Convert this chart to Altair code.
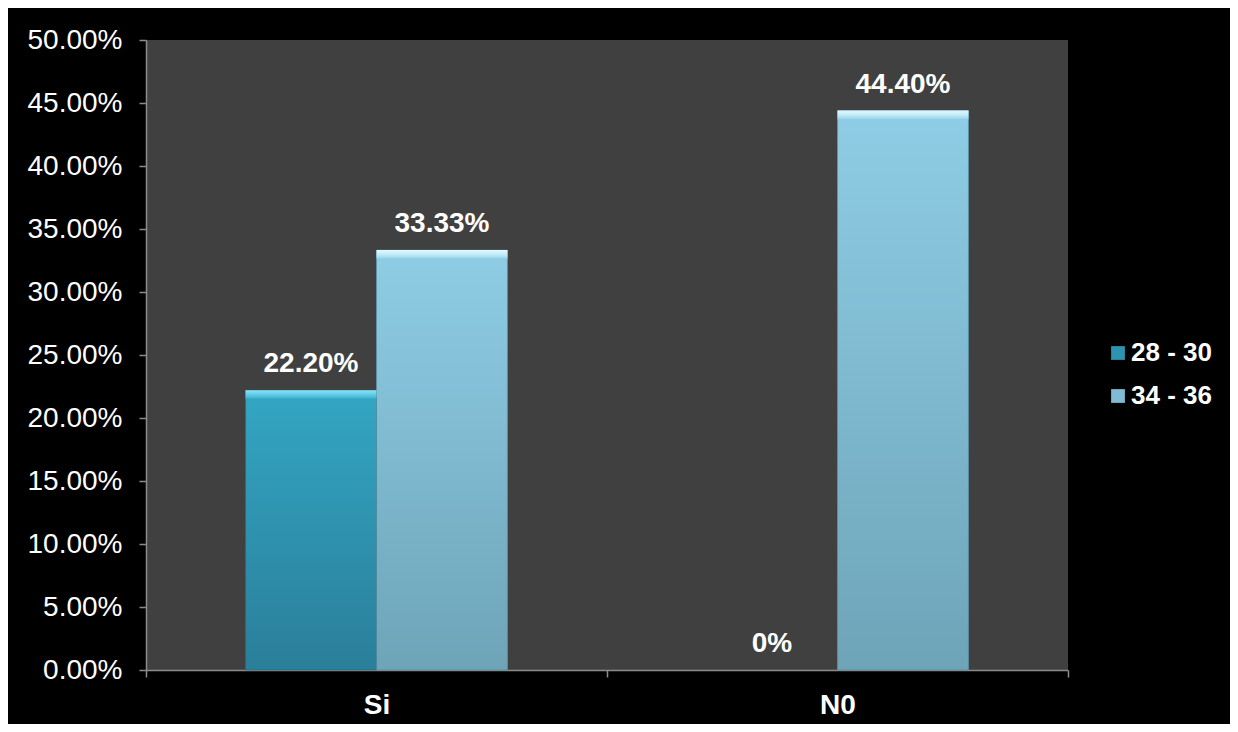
import altair as alt
import pandas as pd

# ---- data ----
categories = ["Si", "Si", "N0", "N0"]
series = ["28 - 30", "34 - 36", "28 - 30", "34 - 36"]
values = [0.222, 0.3333, 0.0, 0.444]
labels = ["22.20%", "33.33%", "0%", "44.40%"]
category_order = ["Si", "N0"]
series_order = ["28 - 30", "34 - 36"]
series_colors = ["#2e93b0", "#7fbbd2"]
y_ticks = [0.0, 0.05, 0.10, 0.15, 0.20, 0.25, 0.30, 0.35, 0.40, 0.45, 0.50]

df = pd.DataFrame({"category": categories, "series": series,
                   "value": values, "label": labels})

FONT = "Liberation Sans"
AXIS_GRAY = "#8c8c8c"

x = alt.X("category:N", sort=category_order,
          scale=alt.Scale(domain=category_order, paddingInner=0, paddingOuter=0),
          axis=alt.Axis(title=None, labelAngle=0, labelFont=FONT, labelFontSize=28,
                        labelFontWeight="bold", labelColor="white", labelPadding=14,
                        tickSize=7, tickBand="extent", domainColor=AXIS_GRAY,
                        tickColor=AXIS_GRAY, domainWidth=1.5, tickWidth=1.5, grid=False))
xo = alt.XOffset("series:N", sort=series_order,
                 scale=alt.Scale(domain=series_order, paddingInner=0, paddingOuter=0.76))
y = alt.Y("value:Q", scale=alt.Scale(domain=[0, 0.5], nice=False),
          axis=alt.Axis(title=None, format=".2%", values=y_ticks, labelFont=FONT,
                        labelFontSize=28, labelColor="white", labelPadding=17,
                        tickSize=7, domainColor=AXIS_GRAY, tickColor=AXIS_GRAY,
                        domainWidth=1.5, tickWidth=1.5, grid=False))

base = alt.Chart(df)
nonzero = base.transform_filter(alt.datum.value > 0)

legend_bars = nonzero.mark_bar().encode(
    x=x, xOffset=xo, y=y,
    color=alt.Color("series:N", scale=alt.Scale(domain=series_order, range=series_colors),
                    legend=alt.Legend(title=None, orient="none", legendX=959, legendY=300,
                                      labelFont=FONT, labelFontSize=26, labelFontWeight="bold",
                                      labelColor="white", symbolType="square", symbolSize=190,
                                      symbolStrokeWidth=0, rowPadding=17, labelOffset=0)),
)

grad_a = alt.Gradient(gradient="linear", x1=0, y1=0, x2=0, y2=1,
                      stops=[alt.GradientStop(offset=0, color="#33a6c3"),
                             alt.GradientStop(offset=1, color="#2a7f9a")])
grad_b = alt.Gradient(gradient="linear", x1=0, y1=0, x2=0, y2=1,
                      stops=[alt.GradientStop(offset=0, color="#8ecde5"),
                             alt.GradientStop(offset=1, color="#6ea4b8")])

bars_a = nonzero.transform_filter(alt.datum.series == "28 - 30").mark_bar(
    color=grad_a, stroke="#1d6076", strokeOpacity=0.6, strokeWidth=1).encode(x=x, xOffset=xo, y=y)
bars_b = nonzero.transform_filter(alt.datum.series == "34 - 36").mark_bar(
    color=grad_b, stroke="#4f8599", strokeOpacity=0.6, strokeWidth=1).encode(x=x, xOffset=xo, y=y)

bev_a = alt.Gradient(gradient="linear", x1=0, y1=0, x2=0, y2=1,
                     stops=[alt.GradientStop(offset=0, color="#8ae3f7"),
                            alt.GradientStop(offset=0.5, color="#62cde6"),
                            alt.GradientStop(offset=1, color="#3aaecb")])
bev_b = alt.Gradient(gradient="linear", x1=0, y1=0, x2=0, y2=1,
                     stops=[alt.GradientStop(offset=0, color="#e2f8fd"),
                            alt.GradientStop(offset=0.5, color="#c2ecf8"),
                            alt.GradientStop(offset=1, color="#98d4ea")])

bevel_a = nonzero.transform_filter(alt.datum.series == "28 - 30").transform_calculate(
    top2="datum.value - 0.0068").mark_bar(color=bev_a).encode(x=x, xOffset=xo, y=y, y2="top2:Q")
bevel_b = nonzero.transform_filter(alt.datum.series == "34 - 36").transform_calculate(
    top2="datum.value - 0.0068").mark_bar(color=bev_b).encode(x=x, xOffset=xo, y=y, y2="top2:Q")

text = base.mark_text(font=FONT, fontSize=28, fontWeight="bold", color="white",
                      baseline="alphabetic", dy=-18).encode(x=x, xOffset=xo, y=y, text="label:N")

chart = alt.layer(legend_bars, bars_a, bars_b, bevel_a, bevel_b, text).properties(
    width=922, height=630, background="black",
    padding={"left": 138, "top": 32, "right": 162, "bottom": 54},
    autosize=alt.AutoSizeParams(type="none"),
).configure_view(fill="#404040", stroke=None)

chart.save("out.html", embed_options={"renderer": "svg", "actions": False})
